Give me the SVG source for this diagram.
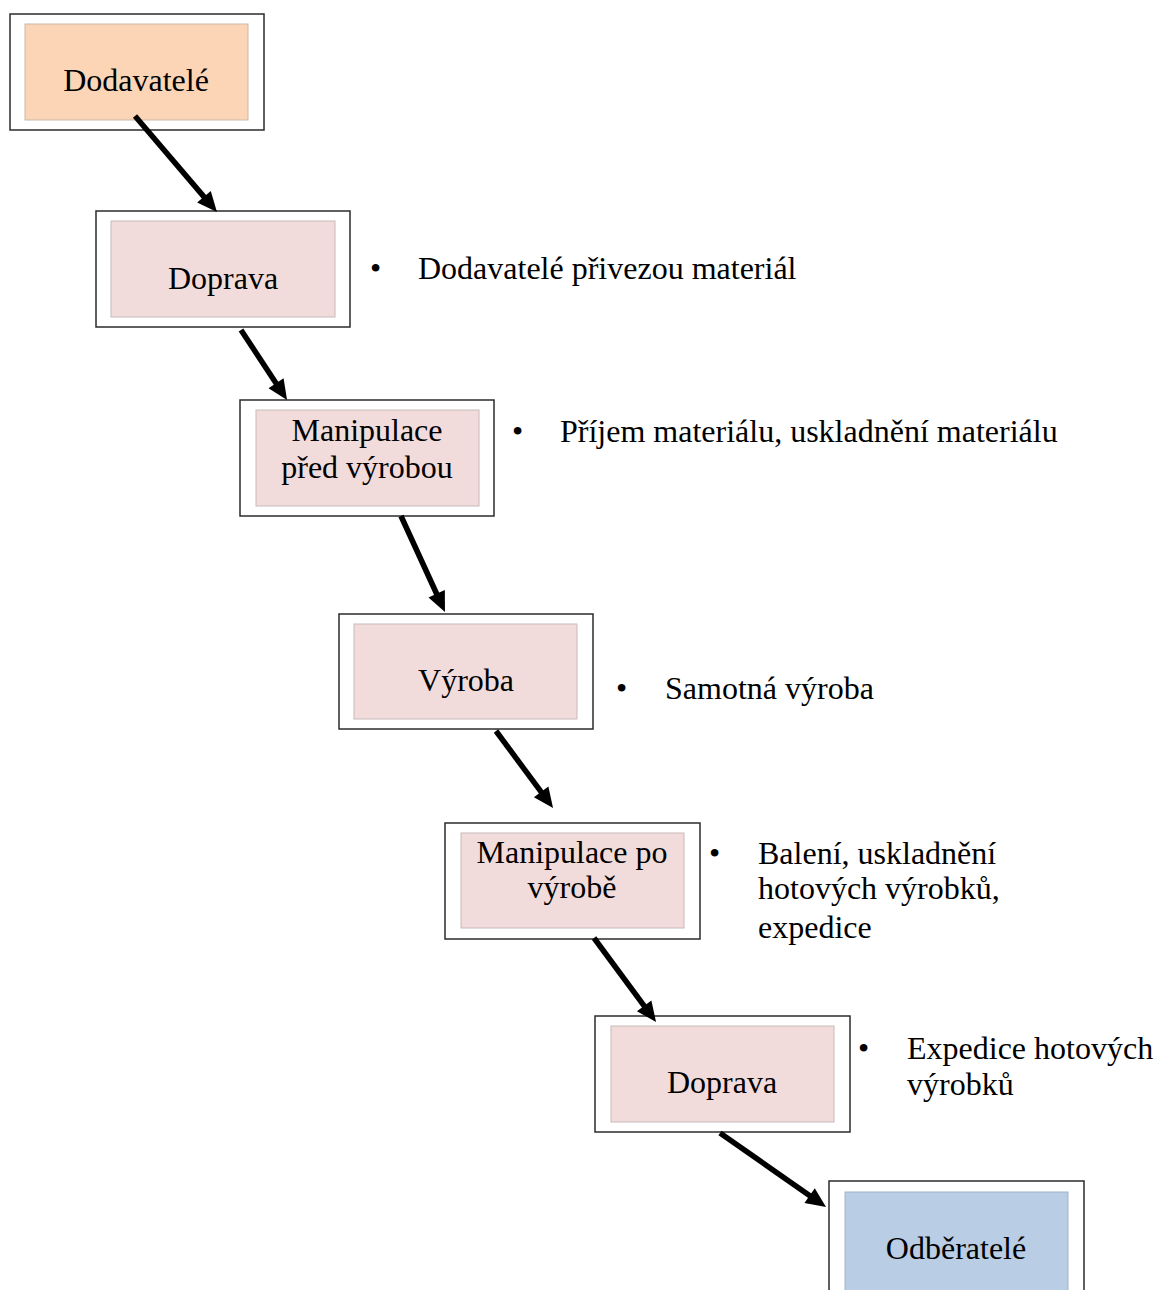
<svg xmlns="http://www.w3.org/2000/svg" width="1156" height="1290" viewBox="0 0 1156 1290">
  <style>
    .frame { fill: #ffffff; stroke: #2b2b2b; stroke-width: 1.5; }
    .peach { fill: #fbd5b5; stroke: #c9b8ab; stroke-width: 1; }
    .pink { fill: #f2dcdb; stroke: #c8baba; stroke-width: 1; }
    .blue { fill: #b9cde5; stroke: #a3b3c6; stroke-width: 1; }
    text { font-family: "Liberation Serif", "Times New Roman", serif; font-size: 32px; fill: #000000; }
    .label { text-anchor: middle; }
    .edge { fill: none; stroke: #000000; stroke-width: 5.5; marker-end: url(#arrow); }
  </style>
  <defs>
    <marker id="arrow" markerUnits="userSpaceOnUse" markerWidth="22" markerHeight="20" refX="9" refY="9" orient="auto" overflow="visible">
      <path d="M0,0 L20,9 L0,18 z" fill="#000000"/>
    </marker>
  </defs>

  <rect width="1156" height="1290" fill="#ffffff"/>

  <g id="node-dodavatele">
    <rect class="frame" x="10" y="14" width="254" height="116"/>
    <rect class="peach" x="25" y="24" width="223" height="96"/>
    <text class="label" x="136" y="91">Dodavatelé</text>
  </g>

  <g id="node-doprava-1">
    <rect class="frame" x="96" y="211" width="254" height="116"/>
    <rect class="pink" x="111" y="221" width="224" height="96"/>
    <text class="label" x="223" y="289">Doprava</text>
  </g>

  <g id="node-manipulace-pred">
    <rect class="frame" x="240" y="400" width="254" height="116"/>
    <rect class="pink" x="256" y="410" width="223" height="96"/>
    <text class="label" x="367" y="441">Manipulace</text>
    <text class="label" x="367" y="478">před výrobou</text>
  </g>

  <g id="node-vyroba">
    <rect class="frame" x="339" y="614" width="254" height="115"/>
    <rect class="pink" x="354" y="624" width="223" height="95"/>
    <text class="label" x="466" y="691">Výroba</text>
  </g>

  <g id="node-manipulace-po">
    <rect class="frame" x="445" y="823" width="255" height="116"/>
    <rect class="pink" x="461" y="833" width="223" height="95"/>
    <text class="label" x="572" y="863">Manipulace po</text>
    <text class="label" x="572" y="898">výrobě</text>
  </g>

  <g id="node-doprava-2">
    <rect class="frame" x="595" y="1016" width="255" height="116"/>
    <rect class="pink" x="611" y="1026" width="223" height="96"/>
    <text class="label" x="722" y="1093">Doprava</text>
  </g>

  <g id="node-odberatele">
    <rect class="frame" x="829" y="1181" width="255" height="130"/>
    <rect class="blue" x="845" y="1192" width="223" height="120"/>
    <text class="label" x="956" y="1259">Odběratelé</text>
  </g>

  <g id="notes">
    <text x="370" y="279">•</text>
    <text x="418" y="279">Dodavatelé přivezou materiál</text>
    <text x="512" y="442">•</text>
    <text x="560" y="442">Příjem materiálu, uskladnění materiálu</text>
    <text x="616" y="699">•</text>
    <text x="665" y="699">Samotná výroba</text>
    <text x="709" y="864">•</text>
    <text x="758" y="864">Balení, uskladnění</text>
    <text x="758" y="899">hotových výrobků,</text>
    <text x="758" y="938">expedice</text>
    <text x="858" y="1059">•</text>
    <text x="907" y="1059">Expedice hotových</text>
    <text x="907" y="1095">výrobků</text>
  </g>

  <g id="connectors">
    <path class="edge" d="M135,116 L209.8,203.6"/>
    <path class="edge" d="M241,330 L281,390.8"/>
    <path class="edge" d="M401,516 L440.4,602"/>
    <path class="edge" d="M496,731 L546.5,799.2"/>
    <path class="edge" d="M594,938 L649.5,1013.1"/>
    <path class="edge" d="M720,1133 L817,1200.7"/>
  </g>
</svg>
